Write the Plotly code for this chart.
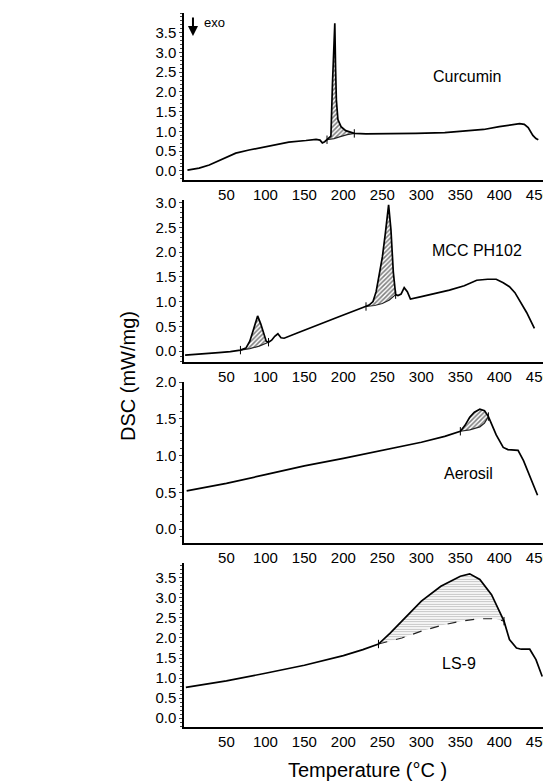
import numpy as np
import plotly.graph_objects as go

# Curcumin
cur_t = [0, 15, 28, 45, 62, 79, 100, 115, 130, 152, 165, 170, 173, 176, 179, 182, 184, 186, 188, 189,
         190, 191, 193, 197, 203, 208, 214, 229, 260, 293, 330, 358, 380, 400, 415, 426, 432, 437, 443, 447, 450]
cur_v = [0.02, 0.07, 0.15, 0.3, 0.45, 0.53, 0.62, 0.68, 0.73, 0.77, 0.80, 0.78, 0.71, 0.74, 0.79, 0.83, 0.88, 2.2, 3.4, 3.74,
         2.6, 1.8, 1.3, 1.12, 1.02, 0.98, 0.95, 0.94, 0.94, 0.95, 0.97, 1.01, 1.05, 1.12, 1.17, 1.2, 1.18, 1.1, 0.9, 0.82, 0.79]
cur_base_t = [179, 188, 196, 205, 214]
cur_base_v = [0.79, 0.82, 0.87, 0.92, 0.95]

# MCC PH102
mcc_t = [-3, 20, 40, 55, 68, 75, 80, 85, 90, 94, 98, 101, 104, 108, 112, 116, 120, 124, 140, 165, 195, 225, 229,
         233, 238, 242, 246, 250, 254, 258, 261, 264, 267, 270, 274, 278, 282, 286, 300, 336, 355, 371, 385, 396,
         405, 413, 420, 426, 435, 445]
mcc_v = [-0.08, -0.06, -0.03, -0.01, 0.02, 0.06, 0.2, 0.45, 0.71, 0.55, 0.35, 0.2, 0.18, 0.22, 0.3, 0.35, 0.27, 0.26,
         0.36, 0.52, 0.7, 0.88, 0.9, 0.93, 1.0, 1.2, 1.55, 1.9, 2.4, 2.95, 2.45, 1.6, 1.14, 1.12, 1.15, 1.28, 1.2, 1.05,
         1.1, 1.23, 1.32, 1.43, 1.45, 1.45, 1.38, 1.3, 1.18, 1.03, 0.78, 0.46]
mcc_base1_t = [68, 80, 92, 104]
mcc_base1_v = [0.02, 0.05, 0.1, 0.18]
mcc_base2_t = [229, 240, 250, 259, 267]
mcc_base2_v = [0.9, 0.92, 0.96, 1.03, 1.14]

# Aerosil
aer_t = [-1, 50, 100, 150, 200, 250, 300, 330, 350, 356, 362, 368, 375, 381, 386, 396, 405, 411, 424, 431, 439, 449]
aer_v = [0.52, 0.62, 0.74, 0.86, 0.96, 1.07, 1.18, 1.26, 1.33, 1.41, 1.52, 1.59, 1.63, 1.61, 1.53, 1.28, 1.11, 1.08,
         1.07, 0.93, 0.71, 0.46]
aer_base_t = [350, 362, 375, 381, 386]
aer_base_v = [1.33, 1.35, 1.39, 1.44, 1.53]

# LS-9
ls_t = [-2, 50, 100, 150, 200, 225, 245, 260, 275, 300, 325, 350, 362, 375, 390, 400, 406, 413, 422, 428, 439, 447, 455]
ls_v = [0.77, 0.93, 1.12, 1.32, 1.56, 1.71, 1.85, 2.12, 2.42, 2.92, 3.29, 3.54, 3.6, 3.46, 3.08, 2.67, 2.42, 1.96,
        1.75, 1.72, 1.72, 1.46, 1.04]
ls_base_t = [245, 275, 300, 325, 350, 375, 395, 406]
ls_base_v = [1.85, 2.0, 2.17, 2.31, 2.42, 2.48, 2.48, 2.42]

x_ticks = [50, 100, 150, 200, 250, 300, 350, 400, 450]
panels = [
    # curve t, curve v, peaks, label, y ticks, y range, label pos
    (cur_t, cur_v, [(cur_base_t, cur_base_v)], 'Curcumin', [0, 0.5, 1, 1.5, 2, 2.5, 3, 3.5], [-0.23, 4.0], (358, 2.38)),
    (mcc_t, mcc_v, [(mcc_base1_t, mcc_base1_v), (mcc_base2_t, mcc_base2_v)], 'MCC PH102',
     [0, 0.5, 1, 1.5, 2, 2.5, 3], [-0.22, 3.05], (371, 2.03)),
    (aer_t, aer_v, [(aer_base_t, aer_base_v)], 'Aerosil', [0, 0.5, 1, 1.5, 2], [-0.19, 2.0], (360, 0.75)),
    (ls_t, ls_v, [(ls_base_t, ls_base_v)], 'LS-9', [0, 0.5, 1, 1.5, 2, 2.5, 3, 3.5], [-0.22, 3.87], (348, 1.375)),
]

W, H = 543, 784
px_domains = [(13, 180), (200, 362), (382, 543), (563, 727)]
FONT = 'Arial, Liberation Sans, sans-serif'

fig = go.Figure()
layout = dict(
    width=W, height=H, margin=dict(l=0, r=0, t=0, b=0),
    paper_bgcolor='white', plot_bgcolor='white', showlegend=False,
    font=dict(family=FONT, color='black', size=15),
)
annotations = []

for i, (t, v, peaks, label, yt, yr, lpos) in enumerate(panels):
    n = '' if i == 0 else str(i + 1)
    xa, ya = 'x' + n, 'y' + n
    t = np.array(t)
    v = np.array(v)
    for bt, bv in peaks:
        m = (t >= bt[0]) & (t <= bt[-1])
        px_ = list(t[m]) + list(bt[::-1])
        py_ = list(v[m]) + list(bv[::-1])
        if label == 'LS-9':
            pat = dict(shape='-', fgcolor='#777777', bgcolor='white', size=2.5, solidity=0.4)
        else:
            pat = dict(shape='/', fgcolor='black', bgcolor='white', size=3.2, solidity=0.5)
        fig.add_trace(go.Scatter(x=px_, y=py_, xaxis=xa, yaxis=ya, mode='lines', fill='toself',
                                 fillcolor='white', fillpattern=pat, line=dict(width=0), hoverinfo='skip'))
        fig.add_trace(go.Scatter(x=bt, y=bv, xaxis=xa, yaxis=ya, mode='lines',
                                 line=dict(color='#222222', width=1.2,
                                           dash='dash' if label == 'LS-9' else 'solid')))
        # small tick marks where the baseline meets the curve
        fig.add_trace(go.Scatter(x=[bt[0], bt[-1]], y=[bv[0], bv[-1]], xaxis=xa, yaxis=ya, mode='markers',
                                 marker=dict(symbol='line-ns', size=6, line=dict(color='black', width=1))))
    fig.add_trace(go.Scatter(x=t, y=v, xaxis=xa, yaxis=ya, mode='lines',
                             line=dict(color='black', width=1.7)))

    top, bot = px_domains[i]
    layout['xaxis' + n] = dict(
        domain=[184 / W, 1], anchor=ya, range=[-4.4, 456], tickvals=x_ticks,
        showline=True, linecolor='black', linewidth=2, ticks='', showgrid=False, zeroline=False,
        tickfont=dict(size=15), automargin=False, ticklabeloverflow='allow',
    )
    layout['yaxis' + n] = dict(
        domain=[1 - bot / H, 1 - top / H], anchor=xa, range=yr, tickvals=yt, tickformat='.1f',
        showline=True, linecolor='black', linewidth=1.5, ticks='outside', ticklen=3, tickwidth=1,
        minor=dict(ticks='outside', ticklen=2, dtick=0.1, tickwidth=1),
        showgrid=False, zeroline=False, tickfont=dict(size=15), automargin=False,
    )
    annotations.append(dict(x=lpos[0], y=lpos[1], xref=xa, yref=ya, text=label, showarrow=False,
                            font=dict(size=16)))

# exo arrow
annotations.append(dict(x=7.1, y=3.42, xref='x', yref='y', ax=0, ay=-20, showarrow=True,
                        arrowhead=2, arrowsize=1, arrowwidth=2, arrowcolor='black', text=''))
annotations.append(dict(x=18.7, y=3.75, xref='x', yref='y', text='exo', showarrow=False,
                        xanchor='left', font=dict(size=13)))
annotations.append(dict(x=128 / W, y=1 - 376 / H, xref='paper', yref='paper', text='DSC (mW/mg)',
                        textangle=-90, showarrow=False, xanchor='center', yanchor='middle',
                        font=dict(size=20)))
annotations.append(dict(x=367 / W, y=1 - 770 / H, xref='paper', yref='paper', text='Temperature (°C )',
                        showarrow=False, xanchor='center', yanchor='middle', font=dict(size=20)))
layout['annotations'] = annotations

fig.update_layout(**layout)
# the page's default body margin would push the fixed-size figure 8px off the window
fig.write_html("out.html", config={'displayModeBar': False},
               post_script="document.body.style.margin='0';")
